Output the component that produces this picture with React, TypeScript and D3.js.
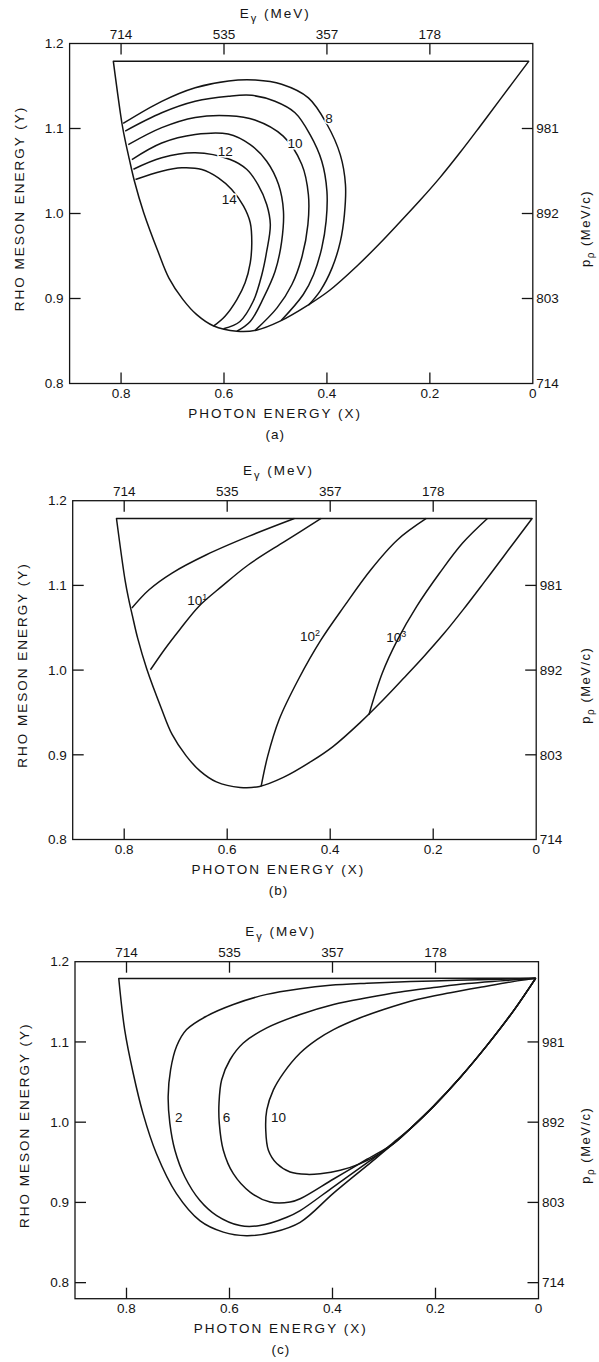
import * as d3 from 'd3';

// axis ticks (shared by the three panels)
const xTickValues = [0.8, 0.6, 0.4, 0.2, 0];
const xTickLabels = ['0.8', '0.6', '0.4', '0.2', '0'];
const topTickLabels = ['714', '535', '357', '178'];
const yTickValues = [1.2, 1.1, 1.0, 0.9, 0.8];
const yTickLabels = ['1.2', '1.1', '1.0', '0.9', '0.8'];
const rightTickValues = [1.1, 1.0, 0.9, 0.8];
const rightTickLabels = ['981', '892', '803', '714'];

// kinematic boundary, panels (a) and (b): [photon energy X, rho energy Y]
const boundaryAB: [number, number][] = [
  [0.815, 1.179], [0.798, 1.105], [0.791, 1.083], [0.784, 1.064], [0.774, 1.038],
  [0.756, 1.001], [0.728, 0.955], [0.707, 0.924], [0.680, 0.899], [0.653, 0.881],
  [0.621, 0.868], [0.575, 0.8615], [0.537, 0.8627], [0.491, 0.8733], [0.436, 0.8925],
  [0.394, 0.910], [0.342, 0.938], [0.297, 0.965], [0.258, 0.990], [0.219, 1.0155],
  [0.18, 1.0425], [0.141, 1.072], [0.102, 1.103], [0.063, 1.1345], [0.008, 1.179],
];

// boundary of panel (c)
const boundaryC: [number, number][] = [
  [0.815, 1.179], [0.8035, 1.115], [0.787, 1.061], [0.768, 1.011], [0.742, 0.961],
  [0.703, 0.911], [0.657, 0.877], [0.612, 0.863], [0.567, 0.8585], [0.515, 0.8628],
  [0.4628, 0.8752], [0.398, 0.9116], [0.3331, 0.9459], [0.2813, 0.9734], [0.2488, 0.992],
  [0.2035, 1.020], [0.1516, 1.056], [0.0996, 1.096], [0.0479, 1.1394], [0.0056, 1.1793],
];

// panel (a) contours, outermost first
const contourA8: [number, number][] = [
  [0.796, 1.106], [0.721, 1.132], [0.656, 1.148], [0.591, 1.156], [0.539, 1.157],
  [0.488, 1.152], [0.436, 1.136], [0.400, 1.105], [0.374, 1.069], [0.364, 1.034],
  [0.366, 0.999], [0.374, 0.967], [0.390, 0.936], [0.413, 0.909], [0.436, 0.892],
];
const contourA9: [number, number][] = [
  [0.792, 1.097], [0.721, 1.1185], [0.656, 1.132], [0.591, 1.138], [0.546, 1.139],
  [0.501, 1.132], [0.462, 1.1185], [0.433, 1.093], [0.410, 1.0615], [0.400, 1.026],
  [0.4016, 0.991], [0.410, 0.9596], [0.426, 0.928], [0.446, 0.9047], [0.489, 0.874],
];
const contourA10: [number, number][] = [
  [0.786, 1.081], [0.721, 1.101], [0.656, 1.113], [0.591, 1.115], [0.540, 1.110],
  [0.485, 1.091], [0.449, 1.058], [0.436, 1.022], [0.437, 0.987], [0.449, 0.948],
  [0.468, 0.9165], [0.497, 0.889], [0.5395, 0.8625],
];
const contourA11: [number, number][] = [
  [0.779, 1.0635], [0.721, 1.083], [0.656, 1.093], [0.592, 1.0935], [0.549, 1.081],
  [0.517, 1.0615], [0.494, 1.034], [0.4845, 1.003], [0.488, 0.967], [0.5007, 0.932],
  [0.523, 0.901], [0.549, 0.873], [0.575, 0.8615],
];
const contourA12: [number, number][] = [
  [0.776, 1.052], [0.721, 1.0655], [0.656, 1.0714], [0.588, 1.0635], [0.556, 1.052],
  [0.534, 1.034], [0.517, 1.0106], [0.510, 0.987], [0.517, 0.9556], [0.5265, 0.928],
  [0.543, 0.897], [0.569, 0.873], [0.601, 0.8644],
];
const contourA14: [number, number][] = [
  [0.772, 1.04], [0.721, 1.0498], [0.682, 1.0538], [0.643, 1.0518], [0.611, 1.042],
  [0.585, 1.0282], [0.562, 1.0086], [0.549, 0.9891], [0.546, 0.9655], [0.549, 0.942],
  [0.559, 0.9185], [0.575, 0.8988], [0.598, 0.8792], [0.6206, 0.8674],
];
const contoursA = [contourA8, contourA9, contourA10, contourA11, contourA12, contourA14];
const labelsA: [string, number, number][] = [
  ['8', 0.4035, 1.1065], ['10', 0.4768, 1.0765], ['12', 0.612, 1.0682], ['14', 0.6043, 1.0106],
];

// panel (b) curves, from the top edge down to the boundary
const curveB0: [number, number][] = [
  [0.4696, 1.179], [0.5586, 1.1579], [0.6403, 1.1362], [0.7071, 1.1146], [0.7517, 1.0949], [0.7851, 1.0733],
];
const curveB1: [number, number][] = [
  [0.4176, 1.179], [0.4881, 1.152], [0.5586, 1.1244], [0.6106, 1.0988], [0.6552, 1.0752],
  [0.6923, 1.0477], [0.722, 1.0241], [0.749, 1.0004],
];
const curveB2: [number, number][] = [
  [0.2134, 1.179], [0.2691, 1.1539], [0.3211, 1.1185], [0.373, 1.0752], [0.4176, 1.0359],
  [0.4621, 0.9886], [0.4993, 0.9414], [0.5215, 0.8981], [0.5341, 0.8627],
];
const curveB3: [number, number][] = [
  [0.0947, 1.179], [0.1429, 1.15], [0.1875, 1.1146], [0.232, 1.0752], [0.2691, 1.0359],
  [0.2988, 0.9965], [0.3248, 0.9473],
];
const curvesB = [curveB0, curveB1, curveB2, curveB3];
const labelsB: [string, string, number, number][] = [
  ['10', '1', 0.6774, 1.0764], ['10', '2', 0.4585, 1.0339], ['10', '3', 0.2913, 1.0327],
];

// panel (c) loops, from the upper-right corner round to where they join the boundary
const contourC2: [number, number][] = [
  [0.0056, 1.1793], [0.0737, 1.1781], [0.2035, 1.1761], [0.3331, 1.1731], [0.4045, 1.1706],
  [0.4628, 1.1664], [0.5276, 1.1593], [0.5926, 1.1467], [0.6444, 1.1322], [0.6833, 1.1154],
  [0.7027, 1.0946], [0.7144, 1.0653], [0.7191, 1.032], [0.7158, 0.9985], [0.706, 0.965],
  [0.6866, 0.9317], [0.6574, 0.9024], [0.6249, 0.8836], [0.5796, 0.8711], [0.5407, 0.8711],
  [0.4887, 0.8815], [0.4628, 0.8898], [0.398, 0.9195], [0.3331, 0.9493], [0.2813, 0.9734],
];
const contourC6: [number, number][] = [
  [0.0056, 1.1793], [0.0737, 1.1761], [0.1385, 1.1727], [0.2035, 1.1677], [0.2683, 1.1623],
  [0.3331, 1.1551], [0.398, 1.1467], [0.4628, 1.1342], [0.5276, 1.1175], [0.5732, 1.0987],
  [0.599, 1.0778], [0.6152, 1.0528], [0.6204, 1.0236], [0.6198, 0.9985], [0.612, 0.965],
  [0.5926, 0.9358], [0.5601, 0.9129], [0.5212, 0.9004], [0.4823, 0.9004], [0.4628, 0.9045],
  [0.398, 0.9292], [0.3331, 0.9538], [0.2813, 0.9734],
];
const contourC10: [number, number][] = [
  [0.0056, 1.1793], [0.0412, 1.1761], [0.1062, 1.1689], [0.171, 1.1614], [0.2358, 1.153],
  [0.3008, 1.1405], [0.3461, 1.1301], [0.398, 1.1154], [0.4304, 1.1029], [0.4628, 1.0862],
  [0.4953, 1.0612], [0.5148, 1.0402], [0.5276, 1.0152], [0.5296, 0.9901], [0.5245, 0.965],
  [0.5082, 0.9484], [0.4823, 0.938], [0.4498, 0.935], [0.4239, 0.9358], [0.385, 0.94],
  [0.3461, 0.9484], [0.3136, 0.9588], [0.2813, 0.975],
];
const contoursC = [contourC2, contourC6, contourC10];
const labelsC: [string, number, number][] = [
  ['2', 0.708, 1.0004], ['6', 0.6152, 1.0004], ['10', 0.5212, 1.0004],
];

// layout of the three frames, in page pixels
const PANELS = [
  { id: 'a', left: 69.6, right: 532.8, top: 43.5, bottom: 383.5, yMin: 0.8 },
  { id: 'b', left: 72.7, right: 536.2, top: 500.7, bottom: 839.5, yMin: 0.8 },
  { id: 'c', left: 75, right: 538.5, top: 961.7, bottom: 1298.7, yMin: 0.78 },
];

const W = 599;
const H = 1362;
const FONT = "'Liberation Sans', Arial, sans-serif";
const INK = '#141414';
const TICK = 11;

type Pt = [number, number];
type Scale = d3.ScaleLinear<number, number>;

function pathOf(pts: Pt[], x: Scale, y: Scale) {
  return d3.line<Pt>()
    .x(d => x(d[0]))
    .y(d => y(d[1]))
    .curve(d3.curveCatmullRom.alpha(0.5))(pts) || '';
}

// loops in (c) run down the boundary into the corner once they meet it
function joinBoundary(pts: Pt[]): Pt[] {
  const minIdx = d3.minIndex(boundaryC, d => d[1]);
  const last = pts[pts.length - 1];
  return pts.concat(boundaryC.slice(minIdx).filter(d => d[0] < last[0] - 0.01));
}

const Panel = ({ cfg }: { cfg: typeof PANELS[number] }) => {
  const x = d3.scaleLinear().domain([0.9, 0]).range([cfg.left, cfg.right]);
  const y = d3.scaleLinear().domain([cfg.yMin, 1.2]).range([cfg.bottom, cfg.top]);
  const cx = (cfg.left + cfg.right) / 2 - 26;
  const cy = (cfg.top + cfg.bottom) / 2;
  const inside = (v: number) => v > cfg.yMin + 0.001 && v < 1.199;

  const boundary = cfg.id === 'c' ? boundaryC : boundaryAB;
  const curveStyle = { fill: 'none', stroke: INK, strokeWidth: 1.5, strokeLinejoin: 'round' as const };
  const halo = { paintOrder: 'stroke' as const, stroke: '#fff', strokeWidth: 3 };

  return (
    <g fontFamily={FONT} fill={INK} fontSize={13.5}>
      {/* frame */}
      <rect x={cfg.left} y={cfg.top} width={cfg.right - cfg.left} height={cfg.bottom - cfg.top}
        fill="none" stroke={INK} strokeWidth={1.3} />

      {/* bottom + top ticks */}
      {xTickValues.map((v, i) => (
        <g key={'x' + i}>
          {v > 0 && (
            <>
              <line x1={x(v)} x2={x(v)} y1={cfg.bottom} y2={cfg.bottom - TICK} stroke={INK} strokeWidth={1.3} />
              <line x1={x(v)} x2={x(v)} y1={cfg.top} y2={cfg.top + TICK} stroke={INK} strokeWidth={1.3} />
              <text x={x(v)} y={cfg.top - 5} textAnchor="middle">{topTickLabels[i]}</text>
            </>
          )}
          <text x={x(v)} y={cfg.bottom + 14.5} textAnchor="middle">{xTickLabels[i]}</text>
        </g>
      ))}

      {/* left ticks */}
      {yTickValues.map((v, i) => (
        <g key={'y' + i}>
          {inside(v) && <line x1={cfg.left} x2={cfg.left + TICK} y1={y(v)} y2={y(v)} stroke={INK} strokeWidth={1.3} />}
          <text x={cfg.left - 6} y={y(v)} dy="0.35em" textAnchor="end">{yTickLabels[i]}</text>
        </g>
      ))}

      {/* right ticks: rho momentum */}
      {rightTickValues.map((v, i) => (
        <g key={'r' + i}>
          {inside(v) && <line x1={cfg.right - TICK} x2={cfg.right} y1={y(v)} y2={y(v)} stroke={INK} strokeWidth={1.3} />}
          <text x={cfg.right + 3.5} y={y(v)} dy="0.35em">{rightTickLabels[i]}</text>
        </g>
      ))}

      {/* axis titles */}
      <text x={cx} y={cfg.top - 26} textAnchor="middle" letterSpacing={2}>
        E<tspan dy={4} fontSize={11}>γ</tspan><tspan dy={-4}>{' (MeV)'}</tspan>
      </text>
      <text x={cx} y={cfg.bottom + 34.5} textAnchor="middle" letterSpacing={2}>PHOTON ENERGY (X)</text>
      <text x={cx} y={cfg.bottom + 55} textAnchor="middle" letterSpacing={1}>({cfg.id})</text>
      <text transform={`translate(${cfg.left - 46},${cy - 5}) rotate(-90)`} textAnchor="middle" letterSpacing={2}>
        RHO MESON ENERGY (Y)
      </text>
      <text transform={`translate(590,${cy + 15}) rotate(-90)`} textAnchor="middle" letterSpacing={1.5} fontSize={13}>
        p<tspan dy={3.5} fontSize={10}>ρ</tspan><tspan dy={-3.5}>{' (MeV/c)'}</tspan>
      </text>

      {/* kinematic boundary, top edge closes it */}
      <path d={pathOf(boundary, x, y) + 'Z'} {...curveStyle} />

      {cfg.id === 'a' && (
        <>
          {contoursA.map((c, i) => <path key={i} d={pathOf(c, x, y)} {...curveStyle} />)}
          {labelsA.map(([t, vx, vy]) => (
            <text key={t} x={x(vx)} y={y(vy)} {...halo}>{t}</text>
          ))}
        </>
      )}

      {cfg.id === 'b' && (
        <>
          {curvesB.map((c, i) => <path key={i} d={pathOf(c, x, y)} {...curveStyle} />)}
          {labelsB.map(([t, s, vx, vy]) => (
            <text key={s} x={x(vx)} y={y(vy)}>
              {t}<tspan dy={-5} fontSize={9}>{s}</tspan>
            </text>
          ))}
        </>
      )}

      {cfg.id === 'c' && (
        <>
          {contoursC.map((c, i) => <path key={i} d={pathOf(joinBoundary(c), x, y)} {...curveStyle} />)}
          {labelsC.map(([t, vx, vy]) => (
            <text key={t} x={x(vx) + 1} y={y(vy)}>{t}</text>
          ))}
        </>
      )}
    </g>
  );
};

export default function App() {
  return (
    <svg width={W} height={H} viewBox={`0 0 ${W} ${H}`}
      style={{ position: 'absolute', left: 0, top: 0, display: 'block', background: '#fff' }}>
      <rect width={W} height={H} fill="#fff" />
      {PANELS.map(p => <Panel key={p.id} cfg={p} />)}
    </svg>
  );
}
